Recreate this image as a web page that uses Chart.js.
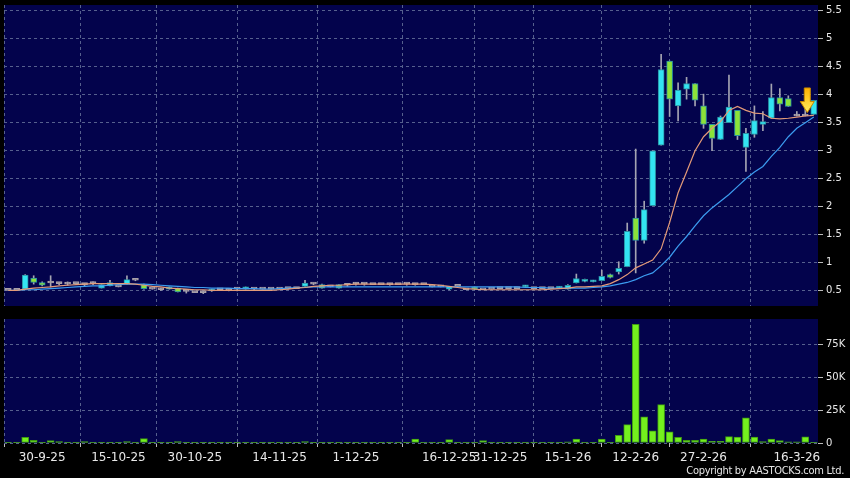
<!DOCTYPE html>
<html lang="en">
<head>
<meta charset="UTF-8">
<title>Daily chart</title>
<script src="https://cdn.jsdelivr.net/npm/chart.js"></script>
<style>
    html, body { margin: 0; padding: 0; background: #000; }
    body { width: 850px; height: 478px; position: relative; overflow: hidden; }
    #price { position: absolute; left: 0; top: 0; }
    #volume { position: absolute; left: 0; top: 312px; }
    .copy {
        position: absolute; right: 6px; top: 464px;
        color: #e6e6e6; font: 11px "DejaVu Sans Condensed", "DejaVu Sans", sans-serif;
        letter-spacing: -0.3px;
        white-space: nowrap;
    }
</style>
</head>
<body>
<canvas id="price" width="850" height="312"></canvas>
<canvas id="volume" width="850" height="166"></canvas>
<div class="copy">Copyright by AASTOCKS.com Ltd.</div>

<script>
// daily bars, oldest first
const open  = [0.51,0.51,0.53,0.73,0.65,0.64,0.63,0.62,0.63,0.61, 0.63,0.55,0.59,0.57,0.63,0.69,0.61,0.53,0.52,0.53,
               0.55,0.49,0.47,0.47,0.50,0.52,0.51,0.53,0.53,0.53, 0.53,0.53,0.53,0.54,0.54,0.58,0.62,0.61,0.57,0.61,
               0.60,0.62,0.62,0.61,0.61,0.61,0.61,0.62,0.61,0.61, 0.57,0.57,0.53,0.58,0.52,0.57,0.52,0.53,0.54,0.54,
               0.54,0.57,0.54,0.54,0.54,0.55,0.53,0.64,0.67,0.66, 0.68,0.79,0.84,0.93,1.80,1.40,2.02,3.10,4.60,3.80,
               4.10,4.20,3.80,3.47,3.20,3.50,3.72,3.06,3.29,3.47, 3.58,3.95,3.93,3.62,3.62,3.65];
const high  = [0.51,0.51,0.79,0.77,0.66,0.77,0.65,0.66,0.64,0.63, 0.66,0.61,0.69,0.58,0.77,0.70,0.62,0.54,0.55,0.57,
               0.55,0.50,0.48,0.49,0.53,0.52,0.52,0.55,0.57,0.54, 0.53,0.54,0.53,0.54,0.55,0.69,0.64,0.62,0.58,0.61,
               0.61,0.65,0.63,0.61,0.61,0.63,0.61,0.64,0.63,0.61, 0.57,0.57,0.58,0.58,0.52,0.57,0.52,0.53,0.54,0.54,
               0.54,0.60,0.54,0.54,0.54,0.58,0.61,0.80,0.71,0.69, 0.87,0.80,1.02,1.71,3.03,2.10,3.00,4.72,4.60,4.21,
               4.31,4.20,4.01,3.47,3.62,4.35,3.72,3.40,3.80,3.70, 4.19,4.11,3.98,3.70,3.82,3.90];
const low   = [0.51,0.51,0.52,0.62,0.59,0.57,0.61,0.60,0.62,0.58, 0.61,0.55,0.59,0.57,0.62,0.68,0.53,0.53,0.51,0.53,
               0.48,0.46,0.47,0.45,0.49,0.51,0.50,0.50,0.53,0.52, 0.53,0.53,0.53,0.53,0.54,0.58,0.61,0.55,0.57,0.55,
               0.58,0.60,0.60,0.61,0.61,0.60,0.61,0.60,0.60,0.61, 0.57,0.57,0.52,0.58,0.52,0.53,0.52,0.53,0.54,0.54,
               0.54,0.57,0.54,0.54,0.54,0.55,0.53,0.64,0.66,0.66, 0.68,0.73,0.80,0.93,0.82,1.35,2.02,3.10,3.61,3.53,
               3.92,3.80,3.40,3.00,3.20,3.50,3.20,2.63,3.24,3.36, 3.58,3.71,3.79,3.62,3.62,3.65];
const close = [0.51,0.51,0.78,0.65,0.60,0.64,0.63,0.62,0.63,0.61, 0.63,0.61,0.65,0.57,0.70,0.69,0.54,0.53,0.52,0.57,
               0.48,0.49,0.47,0.47,0.53,0.52,0.51,0.53,0.57,0.53, 0.53,0.53,0.53,0.54,0.54,0.64,0.62,0.55,0.57,0.55,
               0.60,0.62,0.62,0.61,0.61,0.61,0.61,0.62,0.61,0.61, 0.57,0.57,0.58,0.58,0.52,0.53,0.52,0.53,0.54,0.54,
               0.54,0.60,0.54,0.54,0.54,0.58,0.60,0.72,0.69,0.68, 0.76,0.74,0.90,1.56,1.40,1.95,3.00,4.45,3.92,4.08,
               4.20,3.90,3.47,3.22,3.60,3.78,3.27,3.31,3.54,3.52, 3.95,3.83,3.79,3.62,3.62,3.90];
// volume in thousands of shares
const volume = [0.1,0.1,4.3,2.0,0.3,1.8,1.0,0.1,0.1,1.0, 0.1,0.2,0.5,0.1,1.0,0.1,3.3,0.2,0.3,0.2,
                1.0,0.3,0.1,0.2,0.1,0.1,0.2,0.1,0.1,0.1, 0.1,0.1,0.2,0.1,0.1,1.0,0.2,0.3,0.1,0.2,
                0.2,0.1,0.2,0.1,0.1,0.2,0.1,0.2,3.0,0.2, 0.2,0.2,2.5,0.2,0.1,0.2,1.8,0.1,0.2,0.1,
                0.1,0.2,0.1,0.1,0.2,0.5,0.8,3.0,0.3,0.2, 3.0,0.5,5.8,13.9,90.0,19.8,9.3,29.1,8.4,4.3,
                2.0,2.0,3.0,1.3,1.3,4.8,4.4,19.0,4.4,1.0, 3.0,1.8,0.8,0.8,4.6,0.6];
// moving averages as drawn
const maShort = [0.51,0.51,0.53,0.55,0.56,0.57,0.59,0.60,0.61,0.62, 0.63,0.63,0.63,0.63,0.63,0.62,0.60,0.58,0.57,0.55,
                 0.54,0.53,0.52,0.52,0.51,0.51,0.51,0.51,0.51,0.51, 0.51,0.51,0.52,0.53,0.55,0.56,0.58,0.59,0.60,0.60,
                 0.61,0.62,0.62,0.62,0.62,0.62,0.62,0.62,0.62,0.62, 0.61,0.60,0.58,0.56,0.54,0.53,0.52,0.52,0.52,0.52,
                 0.52,0.52,0.52,0.52,0.53,0.54,0.55,0.57,0.57,0.58, 0.59,0.63,0.70,0.79,0.91,0.98,1.05,1.25,1.72,2.25,
                 2.62,3.00,3.25,3.40,3.52,3.72,3.79,3.72,3.67,3.66, 3.58,3.57,3.58,3.60,3.62,3.63];
const maLong  = [0.51,0.51,0.52,0.52,0.53,0.54,0.55,0.56,0.57,0.58, 0.59,0.59,0.60,0.61,0.62,0.62,0.62,0.61,0.60,0.59,
                 0.58,0.57,0.56,0.56,0.55,0.55,0.55,0.54,0.54,0.54, 0.53,0.53,0.54,0.55,0.56,0.56,0.57,0.57,0.57,0.57,
                 0.57,0.57,0.57,0.57,0.57,0.57,0.57,0.57,0.57,0.57, 0.57,0.57,0.57,0.57,0.57,0.57,0.57,0.57,0.57,0.57,
                 0.57,0.56,0.56,0.56,0.55,0.55,0.55,0.55,0.55,0.56, 0.57,0.59,0.62,0.65,0.70,0.77,0.82,0.95,1.10,1.30,
                 1.47,1.66,1.84,1.98,2.10,2.22,2.36,2.50,2.62,2.72, 2.90,3.06,3.25,3.40,3.50,3.60];

// x-axis labels and where they sit (bar index)
const tickIdx  = [4, 13, 22, 32, 41, 52, 58, 66, 74, 82, 93];
const tickText = ['30-9-25','15-10-25','30-10-25','14-11-25','1-12-25','16-12-25','31-12-25','15-1-26','12-2-26','27-2-26','16-3-26'];
const priceTicks = [0.5, 1, 1.5, 2, 2.5, 3, 3.5, 4, 4.5, 5, 5.5];
const volTicks = [0, 25, 50, 75];
// signal arrow on the last bars
const arrowMark = { index: 94, from: 4.12, to: 3.68 };

const N = close.length;
const NAVY = '#03034c';
const GRID = '#56608e';
const TXT = '#e8e8e8';
const UP = '#33e4f2', DOWN = '#8be23a', FLAT = '#a8a0a8';

const plotBg = {
    id: 'plotBg',
    beforeDraw(chart) {
        const a = chart.chartArea, c = chart.ctx;
        c.save();
        c.fillStyle = NAVY;
        c.fillRect(a.left, a.top, a.right - a.left, a.bottom - a.top);
        c.restore();
    }
};

const arrowPlug = {
    id: 'arrowPlug',
    afterDatasetsDraw(chart) {
        const c = chart.ctx;
        const x = chart.scales.x.getPixelForValue(arrowMark.index) + 2;
        const y0 = chart.scales.y.getPixelForValue(arrowMark.from);
        const y1 = chart.scales.y.getPixelForValue(arrowMark.to);
        const headH = (y1 - y0) * 0.45;
        c.save();
        c.beginPath();
        c.moveTo(x - 3, y0);
        c.lineTo(x + 3, y0);
        c.lineTo(x + 3, y1 - headH);
        c.lineTo(x + 7, y1 - headH);
        c.lineTo(x, y1);
        c.lineTo(x - 7, y1 - headH);
        c.lineTo(x - 3, y1 - headH);
        c.closePath();
        const g = c.createLinearGradient(0, y0, 0, y1);
        g.addColorStop(0, '#ffb000');
        g.addColorStop(1, '#fff060');
        c.fillStyle = g;
        c.fill();
        c.strokeStyle = '#c88a00';
        c.lineWidth = 1;
        c.stroke();
        c.restore();
    }
};

function candleColor(ctx) {
    const i = ctx.dataIndex;
    if (close[i] > open[i]) return UP;
    if (close[i] < open[i]) return DOWN;
    return FLAT;
}

const xTicks = axis => { axis.ticks = tickIdx.map(v => ({ value: v })); };
// keep the plot area where the layout padding puts it
const noLabelPad = s => { s.width = 32; s.paddingTop = 0; s.paddingBottom = 0; };

new Chart(document.getElementById('price'), {
    type: 'bar',
    data: {
        datasets: [
            {
                type: 'line', label: 'MA short',
                data: maShort.map((v, i) => ({ x: i, y: v })),
                borderColor: '#e39a78', borderWidth: 1.2, pointRadius: 0, order: 0
            },
            {
                type: 'line', label: 'MA long',
                data: maLong.map((v, i) => ({ x: i, y: v })),
                borderColor: '#3c9cf0', borderWidth: 1.2, pointRadius: 0, order: 1
            },
            {
                label: 'body',
                data: open.map((o, i) => ({ x: i, y: [o, close[i]] })),
                backgroundColor: candleColor,
                borderColor: ctx => close[ctx.dataIndex] === open[ctx.dataIndex] ? FLAT : '#2a8fa0',
                borderWidth: 1, borderSkipped: false,
                barThickness: 6, minBarLength: 2, grouped: false, order: 2
            },
            {
                label: 'wick',
                data: low.map((l, i) => ({ x: i, y: [l, high[i]] })),
                backgroundColor: '#a4a4b2',
                barThickness: 1, grouped: false, order: 3
            }
        ]
    },
    options: {
        responsive: false,
        animation: false,
        layout: { padding: { left: 4, top: 5, right: 0, bottom: 6 } },
        plugins: { legend: { display: false }, tooltip: { enabled: false } },
        scales: {
            x: {
                type: 'linear', min: -0.5, max: N - 0.5, offset: false,
                afterBuildTicks: xTicks,
                afterFit: s => { s.height = 0; s.paddingLeft = 0; s.paddingRight = 0; },
                ticks: { display: false },
                grid: { color: GRID, drawTicks: false },
                border: { display: false, dash: [3, 3] }
            },
            y: {
                position: 'right', min: 0.23, max: 5.6,
                afterBuildTicks: axis => { axis.ticks = priceTicks.map(v => ({ value: v })); },
                afterFit: noLabelPad,
                ticks: {
                    color: TXT, font: { family: 'DejaVu Sans', size: 10 }, padding: 3,
                    callback: v => String(+v)
                },
                grid: { color: GRID, tickColor: '#bbbbbb', tickLength: 5 },
                border: { display: false, dash: [3, 3] }
            }
        }
    },
    plugins: [plotBg, arrowPlug]
});

new Chart(document.getElementById('volume'), {
    type: 'bar',
    data: {
        datasets: [{
            label: 'Volume',
            data: volume.map((v, i) => ({ x: i, y: v })),
            backgroundColor: '#74f01e',
            borderColor: '#3f9a12',
            borderWidth: 1, borderSkipped: false,
            barThickness: 7
        }]
    },
    options: {
        responsive: false,
        animation: false,
        layout: { padding: { left: 4, top: 7, right: 0, bottom: 0 } },
        plugins: { legend: { display: false }, tooltip: { enabled: false } },
        scales: {
            x: {
                type: 'linear', min: -0.5, max: N - 0.5, offset: false,
                afterBuildTicks: xTicks,
                afterFit: s => { s.height = 35; s.paddingLeft = 0; s.paddingRight = 0; },
                ticks: {
                    autoSkip: false, maxRotation: 0, padding: 4,
                    color: TXT, font: { family: 'DejaVu Sans', size: 12 },
                    callback: v => tickText[tickIdx.indexOf(v)]
                },
                grid: { color: GRID, tickColor: '#bbbbbb', tickLength: 4 },
                border: { display: false, dash: [3, 3] }
            },
            y: {
                position: 'right', min: 0, max: 94,
                afterBuildTicks: axis => { axis.ticks = volTicks.map(v => ({ value: v })); },
                afterFit: noLabelPad,
                ticks: {
                    color: TXT, font: { family: 'DejaVu Sans', size: 10 }, padding: 3,
                    callback: v => v === 0 ? '0' : v + 'K'
                },
                grid: { color: GRID, tickColor: '#bbbbbb', tickLength: 5 },
                border: { display: false, dash: [3, 3] }
            }
        }
    },
    plugins: [plotBg]
});
</script>
</body>
</html>
